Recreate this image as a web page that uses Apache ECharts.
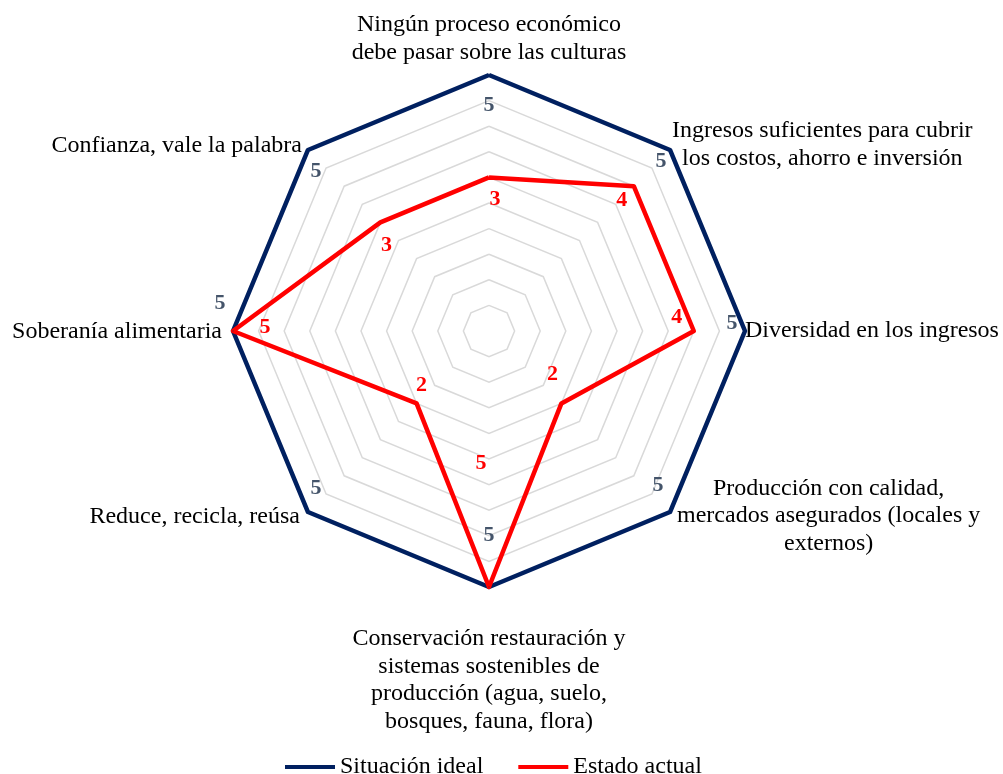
<!DOCTYPE html>
<html lang="es">
<head>
<meta charset="UTF-8">
<title>Radar</title>
<style>
    *{
        margin: 0;
        padding: 0;
    }
    #main{
        width: 1003px;
        height: 774px;
        background: #fff;
    }
</style>
</head>
<body>
<div id="main"></div>
<script src="https://cdn.jsdelivr.net/npm/echarts@6/dist/echarts.min.js"></script>
<script type="text/javascript">
    // categorías en el orden de la figura: desde arriba y en sentido horario
    var categorias = [
        'Ningún proceso económico\ndebe pasar sobre las culturas',
        'Ingresos suficientes para cubrir\nlos costos, ahorro e inversión',
        'Diversidad en los ingresos',
        'Producción con calidad,\nmercados asegurados (locales y\nexternos)',
        'Conservación restauración y\nsistemas sostenibles de\nproducción (agua, suelo,\nbosques, fauna, flora)',
        'Reduce, recicla, reúsa',
        'Soberanía alimentaria',
        'Confianza, vale la palabra'
    ];
    var situacionIdeal = [5, 5, 5, 5, 5, 5, 5, 5];
    var estadoActual = [3, 4, 4, 2, 5, 2, 5, 3];
    var valorMax = 5;
    var series = ['Situación ideal', 'Estado actual'];

    var cx = 489, cy = 331, radio = 256;
    var fuente = '"Liberation Serif", "Times New Roman", serif';

    // desplazamiento de las etiquetas respecto a cada vértice (orden horario)
    var despIdeal = [[0, 30], [-9, 11], [-13, -8], [-12, -27], [0, -52], [8, -24], [-13, -28], [8, 21]];
    var despActual = [[6, 22], [-12, 14], [-17, -14], [-9, -29], [-8, -124], [5, -18], [32, -4], [6, 23]];
    // margen extra de los nombres: [arriba, derecha, abajo, izquierda]
    var margenNombre = [[0, 0, 9, 0], [0, 0, 11, 2], [0, 0, 0, 0], [8, 0, 0, 7],
                        [38, 0, 0, 0], [10, 8, 0, 0], [2, 11, 0, 0], [2, 6, 10, 0]];

    // echarts dibuja los ejes en sentido antihorario
    function antihorario(arr){
        return [arr[0]].concat(arr.slice(1).reverse());
    }

    function indiceVertice(rect){
        var x = rect.x + rect.width / 2 - cx;
        var y = cy - (rect.y + rect.height / 2);
        var ang = Math.atan2(y, x) * 180 / Math.PI;
        var k = Math.round((90 - ang) / 45);
        return ((k % 8) + 8) % 8;
    }

    function layoutEtiquetas(desp){
        return function(params){
            var d = desp[indiceVertice(params.rect)];
            return {dx: d[0], dy: d[1]};
        };
    }

    var rich = {};
    margenNombre.forEach(function(m, i){
        rich['c' + i] = {
            align: 'center',
            fontFamily: fuente,
            fontSize: 24,
            lineHeight: 27.5,
            color: '#000',
            padding: [0, m[1], 0, m[3]]
        };
        rich['a' + i] = {fontSize: 1, lineHeight: Math.max(m[0], 1), height: Math.max(m[0], 1)};
        rich['b' + i] = {fontSize: 1, lineHeight: Math.max(m[2], 1), height: Math.max(m[2], 1)};
    });

    var myChart = echarts.init(document.getElementById('main'));

    myChart.setOption({
        animation: false,
        legend: {
            top: 750,
            left: 280,
            itemWidth: 50,
            itemHeight: 4,
            itemGap: 35,
            icon: 'rect',
            textStyle: {
                fontFamily: fuente,
                fontSize: 24,
                color: '#000'
            },
            data: series
        },
        radar: {
            center: [cx, cy],
            radius: radio,
            shape: 'polygon',
            splitNumber: 10,
            nameGap: 0,
            indicator: antihorario(categorias).map(function(n){
                return {name: n, min: 0, max: valorMax};
            }),
            axisName: {
                color: '#000',
                fontFamily: fuente,
                fontSize: 24,
                formatter: function(name){
                    var i = categorias.indexOf(name);
                    var m = margenNombre[i];
                    var txt = name.split('\n').map(function(l){
                        return '{c' + i + '|' + l + '}';
                    }).join('\n');
                    if (m[0] > 0) txt = '{a' + i + '| }\n' + txt;
                    if (m[2] > 0) txt = txt + '\n{b' + i + '| }';
                    return txt;
                },
                rich: rich
            },
            axisLine: {show: false},
            axisTick: {show: false},
            axisLabel: {show: false},
            splitArea: {show: false},
            splitLine: {
                lineStyle: {
                    color: '#d9d9d9',
                    width: 1.5
                }
            }
        },
        series: [
            {
                type: 'radar',
                silent: true,
                symbol: 'circle',
                symbolSize: 2,
                labelLayout: layoutEtiquetas(despIdeal),
                label: {
                    show: true,
                    position: 'inside',
                    color: '#44546a',
                    fontFamily: fuente,
                    fontWeight: 'bold',
                    fontSize: 22
                },
                lineStyle: {width: 4.5, color: '#002060'},
                itemStyle: {color: '#002060'},
                data: [{name: series[0], value: antihorario(situacionIdeal)}]
            },
            {
                type: 'radar',
                silent: true,
                symbol: 'circle',
                symbolSize: 2,
                labelLayout: layoutEtiquetas(despActual),
                label: {
                    show: true,
                    position: 'inside',
                    color: '#ff0000',
                    fontFamily: fuente,
                    fontWeight: 'bold',
                    fontSize: 22
                },
                lineStyle: {width: 4.5, color: '#ff0000'},
                itemStyle: {color: '#ff0000'},
                data: [{name: series[1], value: antihorario(estadoActual)}]
            }
        ]
    });
</script>
</body>
</html>
